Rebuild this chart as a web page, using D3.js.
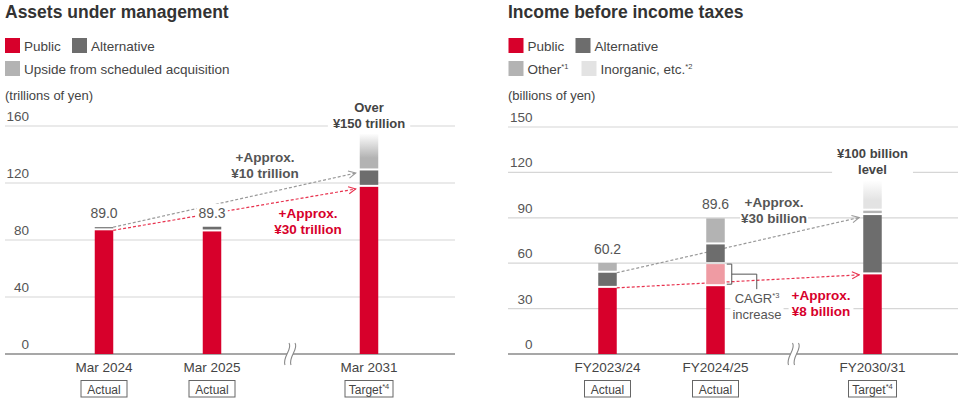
<!DOCTYPE html>
<html>
<head>
<meta charset="utf-8">
<script src="https://cdn.jsdelivr.net/npm/d3@7/dist/d3.min.js"></script>
<style>
  body { margin: 0; background: #fff; }
  svg { font-family: "Liberation Sans", Arial, sans-serif; }
</style>
</head>
<body>
<div id="chart"></div>
<script>
// ---- data: assets under management (trillions of yen)
var aumCats = ["Mar 2024", "Mar 2025", "Mar 2031"];
var aumTags = ["Actual", "Actual", "Target"];
var aumPublic = [86.8, 86.0, 117.3];
var aumAlternative = [2.2, 3.3, 11.5];
var aumUpside = [0, 0, 26];
var aumTotals = ["89.0", "89.3", null];
var aumTicks = [0, 40, 80, 120, 160];

// ---- data: income before income taxes (billions of yen)
var ibtCats = ["FY2023/24", "FY2024/25", "FY2030/31"];
var ibtTags = ["Actual", "Actual", "Target"];
var ibtPublic = [43.7, 44.8, 52.6];
var ibtCagr = [0, 14.6, 0];
var ibtAlternative = [10.0, 13.0, 39.2];
var ibtOther = [6.5, 17.2, 2.9];
var ibtInorganic = [0, 0, 20];
var ibtTotals = ["60.2", "89.6", null];
var ibtTicks = [0, 30, 60, 90, 120, 150];

var RED = "#d7002b", DARK = "#6d6d6d", LIGHT = "#b3b3b3", PINK = "#ef9ba3", PALE = "#e3e3e3";

var svg = d3.select("#chart").append("svg")
  .attr("width", 960).attr("height", 399);

var defs = svg.append("defs");
function grad(id, col) {
  var g = defs.append("linearGradient").attr("id", id)
    .attr("x1", 0).attr("y1", 0).attr("x2", 0).attr("y2", 1);
  g.append("stop").attr("offset", "0%").attr("stop-color", "#fff");
  g.append("stop").attr("offset", "70%").attr("stop-color", col);
  g.append("stop").attr("offset", "100%").attr("stop-color", col);
}
grad("upsideGrad", LIGHT);
grad("inorgGrad", PALE);

function marker(id, col) {
  defs.append("marker").attr("id", id)
    .attr("viewBox", "0 0 10 10").attr("refX", 9).attr("refY", 5)
    .attr("markerUnits", "userSpaceOnUse")
    .attr("markerWidth", 9).attr("markerHeight", 9)
    .attr("orient", "auto")
    .append("path").attr("d", "M1,1 L9,5 L1,9")
    .attr("fill", "none").attr("stroke", col).attr("stroke-width", 1.2);
}
marker("arrGray", "#999");
marker("arrRed", "#e8334f");

// text with small superscript tail, e.g. Target*4
function supText(sel, main, sup) {
  sel.append("tspan").text(main);
  if (sup) sel.append("tspan").attr("font-size", "7.5px").attr("dy", -5).text(sup);
}

// white box behind a text group so grid lines break around it
function knockout(g, pad) {
  var b = g.node().getBBox();
  g.insert("rect", ":first-child")
    .attr("x", b.x - pad).attr("y", b.y - 1)
    .attr("width", b.width + pad * 2).attr("height", b.height + 2)
    .attr("fill", "#fff");
}

function multiLine(parent, x, y0, lines, opts) {
  var g = parent.append("g");
  lines.forEach(function(l, i) {
    var t = g.append("text")
      .attr("x", x).attr("y", y0 + i * 16)
      .attr("text-anchor", "middle")
      .attr("font-size", opts.size || "13px")
      .attr("font-weight", opts.weight || "normal")
      .attr("fill", opts.color || "#444");
    if (Array.isArray(l)) supText(t, l[0], l[1]); else t.text(l);
  });
  if (opts.knock) knockout(g, opts.knock);
  return g;
}

function drawPanel(p) {
  var g = svg.append("g");
  var off = p.off;
  var x = d3.scaleOrdinal().domain(p.cats).range([104 + off, 212 + off, 369 + off]);
  var y = d3.scaleLinear().domain([0, p.max]).range([354, p.max === 160 ? 126 : 127]);
  var bw = 18.5;
  var gx0 = p.gridX[0], gx1 = p.gridX[1];

  // title
  g.append("text").attr("x", gx0).attr("y", 18)
    .attr("font-size", "17.5px").attr("font-weight", "bold").attr("fill", "#333")
    .text(p.title);

  // legend
  p.legend.forEach(function(d) {
    g.append("rect").attr("x", d.x + off).attr("y", d.y)
      .attr("width", 15).attr("height", 15).attr("fill", d.color);
    var t = g.append("text").attr("x", d.x + off + 19).attr("y", d.y + 13)
      .attr("font-size", "13.5px").attr("fill", "#444");
    supText(t, d.label, d.sup);
  });

  g.append("text").attr("x", gx0).attr("y", 100)
    .attr("font-size", "13px").attr("fill", "#444").text(p.unit);

  // grid lines + tick labels
  p.ticks.forEach(function(v) {
    g.append("line").attr("x1", gx0).attr("x2", gx1)
      .attr("y1", y(v)).attr("y2", y(v))
      .attr("stroke", v === 0 ? "#8a8a8a" : "#d6d6d6")
      .attr("stroke-width", v === 0 ? 1.5 : 1.2);
    g.append("text").attr("x", 29 + off + (off ? 0 : 0)).attr("y", y(v) - 5)
      .attr("text-anchor", "end").attr("font-size", "13.5px").attr("fill", "#555")
      .text(v);
  });

  // dashed growth arrows (drawn behind the bars)
  p.arrows.forEach(function(a) {
    g.append("line")
      .attr("x1", x(p.cats[0]) + bw / 2).attr("y1", y(a.from))
      .attr("x2", x(p.cats[2]) - bw / 2 - 4).attr("y2", y(a.to))
      .attr("stroke", a.color).attr("stroke-width", 1.2)
      .attr("stroke-dasharray", "3,2")
      .attr("marker-end", "url(#" + a.marker + ")");
  });

  // stacked bars
  p.cats.forEach(function(c, i) {
    var base = 0;
    p.series.forEach(function(s, k) {
      var v = s.values[i];
      if (!v) return;
      var top = base + v;
      var y0 = y(base) - (base > 0 ? 2 : 0);
      var y1 = y(top);
      g.append("rect")
        .attr("x", x(c) - bw / 2).attr("width", bw)
        .attr("y", y1).attr("height", Math.max(0.8, y0 - y1))
        .attr("fill", s.fill);
      base = top;
    });
    if (p.totals[i]) {
      var lg = g.append("g");
      lg.append("text").attr("x", x(c)).attr("y", y(base) - 9)
        .attr("text-anchor", "middle").attr("font-size", "14px").attr("fill", "#555")
        .text(p.totals[i]);
      knockout(lg, 2);
    }
    // category label and tag box
    g.append("text").attr("x", x(c)).attr("y", 372)
      .attr("text-anchor", "middle").attr("font-size", "13.5px").attr("fill", "#444")
      .text(c);
    var tag = p.tags[i];
    var w = tag === "Target" ? 48 : 46;
    g.append("rect").attr("x", x(c) - w / 2).attr("y", 380.5)
      .attr("width", w).attr("height", 16.5)
      .attr("fill", "#fff").attr("stroke", "#666").attr("stroke-width", 1);
    var tt = g.append("text").attr("x", x(c)).attr("y", 393.5)
      .attr("text-anchor", "middle").attr("font-size", "12px").attr("fill", "#444");
    supText(tt, tag, tag === "Target" ? "*4" : null);
  });

  // axis break mark
  var bx = p.breakX + off, by = 354;
  g.append("rect").attr("x", bx - 3).attr("y", by - 2).attr("width", 6).attr("height", 4).attr("fill", "#fff");
  [-3, 3].forEach(function(dx) {
    g.append("path")
      .attr("d", "M" + (bx + dx + 2) + "," + (by - 11) +
        " C" + (bx + dx + 6) + "," + (by - 5) + " " + (bx + dx - 5) + "," + (by + 3) +
        " " + (bx + dx - 2) + "," + (by + 11))
      .attr("fill", "none").attr("stroke", "#888").attr("stroke-width", 1.1);
  });

  p.extra(g, x, y, bw);
}

drawPanel({
  off: 0, title: "Assets under management", unit: "(trillions of yen)",
  cats: aumCats, tags: aumTags, totals: aumTotals, ticks: aumTicks, max: 160,
  gridX: [5, 455], breakX: 290,
  legend: [
    { x: 5, y: 38, color: RED, label: "Public" },
    { x: 72, y: 38, color: DARK, label: "Alternative" },
    { x: 5, y: 61, color: LIGHT, label: "Upside from scheduled acquisition" }
  ],
  series: [
    { values: aumPublic, fill: RED },
    { values: aumAlternative, fill: DARK },
    { values: aumUpside, fill: "url(#upsideGrad)" }
  ],
  arrows: [
    { from: 89.0, to: 127, color: "#999", marker: "arrGray" },
    { from: 86.8, to: 115.8, color: "#e8334f", marker: "arrRed" }
  ],
  extra: function(g, x, y) {
    multiLine(g, x(aumCats[2]), 112, ["Over", "¥150 trillion"],
      { weight: "bold", color: "#444", knock: 5 });
    multiLine(g, 265, 162, ["+Approx.", "¥10 trillion"],
      { weight: "bold", color: "#555", size: "13.5px" });
    multiLine(g, 308, 218, ["+Approx.", "¥30 trillion"],
      { weight: "bold", color: RED, size: "13.5px" });
  }
});

drawPanel({
  off: 503.5, title: "Income before income taxes", unit: "(billions of yen)",
  cats: ibtCats, tags: ibtTags, totals: ibtTotals, ticks: ibtTicks, max: 150,
  gridX: [508, 958], breakX: 290,
  legend: [
    { x: 5, y: 38, color: RED, label: "Public" },
    { x: 72, y: 38, color: DARK, label: "Alternative" },
    { x: 5, y: 61, color: LIGHT, label: "Other", sup: "*1" },
    { x: 78, y: 61, color: PALE, label: "Inorganic, etc.", sup: "*2" }
  ],
  series: [
    { values: ibtPublic, fill: RED },
    { values: ibtCagr, fill: PINK },
    { values: ibtAlternative, fill: DARK },
    { values: ibtOther, fill: LIGHT },
    { values: ibtInorganic, fill: "url(#inorgGrad)" }
  ],
  arrows: [
    { from: 53.7, to: 90.2, color: "#999", marker: "arrGray" },
    { from: 43.7, to: 52.3, color: "#e8334f", marker: "arrRed" }
  ],
  extra: function(g, x, y, bw) {
    multiLine(g, x(ibtCats[2]), 158, ["¥100 billion", "level"],
      { weight: "bold", color: "#444", knock: 5 });
    multiLine(g, 774, 207, ["+Approx.", "¥30 billion"],
      { weight: "bold", color: "#555", size: "13.5px", knock: 1 });
    multiLine(g, 821, 300, ["+Approx.", "¥8 billion"],
      { weight: "bold", color: RED, size: "13.5px", knock: 3 });
    // bracket marking the CAGR increase
    var bx = x(ibtCats[1]) + bw / 2;
    var top = y(ibtPublic[1] + ibtCagr[1]), bot = y(ibtPublic[1]) - 2;
    var mid = (top + bot) / 2;
    g.append("path")
      .attr("d", "M" + (bx + 2) + "," + top + " H" + (bx + 7) + " V" + bot + " H" + (bx + 2) +
        " M" + (bx + 7) + "," + mid + " H" + (bx + 32) + " V" + (mid + 15))
      .attr("fill", "none").attr("stroke", "#555").attr("stroke-width", 1);
    multiLine(g, 757, 303, [["CAGR", "*3"], "increase"],
      { color: "#555", size: "13px", knock: 2 });
  }
});
</script>
</body>
</html>
